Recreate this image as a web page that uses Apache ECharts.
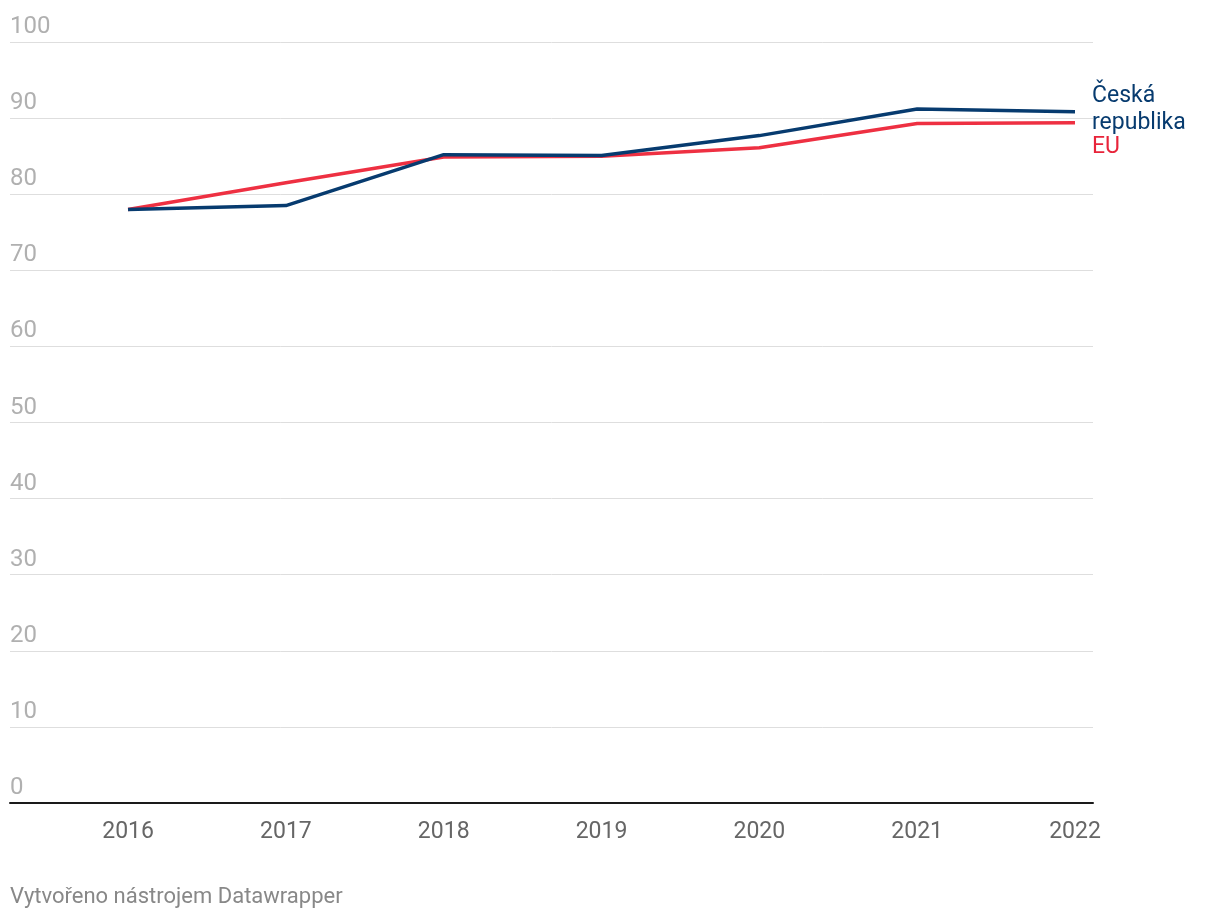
<!DOCTYPE html>
<html>
<head>
<meta charset="utf-8">
<script src="https://cdn.jsdelivr.net/npm/echarts@6/dist/echarts.min.js"></script>
<style>
html,body{margin:0;padding:0;background:#fff;}
#chart{width:1220px;height:920px;}
</style>
</head>
<body>
<div id="chart"></div>
<script>
const years = [2016, 2017, 2018, 2019, 2020, 2021, 2022];
const czech = [78.0, 78.5, 85.2, 85.1, 87.7, 91.2, 90.85];
const eu = [78.0, 81.5, 84.9, 85.0, 86.1, 89.3, 89.4];
const yTicks = [0, 10, 20, 30, 40, 50, 60, 70, 80, 90, 100];
const czechName = 'Česká\nrepublika';
const euName = 'EU';
const footer = 'Vytvořeno nástrojem Datawrapper';

const FONT = 'Roboto, "Noto Sans", sans-serif';
const chart = echarts.init(document.getElementById('chart'), null, {renderer: 'canvas'});

function pairs(vals) { return years.map((y, i) => [y, vals[i]]); }

chart.setOption({
  animation: false,
  backgroundColor: '#ffffff',
  textStyle: {fontFamily: FONT},
  grid: {left: 10, right: 127, top: 42, bottom: 117, containLabel: false},
  xAxis: {
    type: 'value',
    min: 2015.252,
    max: 2022.114,
    splitLine: {show: false},
    axisTick: {show: false},
    axisLine: {show: true, onZero: false, lineStyle: {color: '#1a1a1a', width: 2}},
    axisLabel: {
      customValues: years,
      formatter: v => String(Math.round(v)),
      color: '#666666',
      fontSize: 23,
      fontFamily: FONT,
      margin: 18,
      showMinLabel: true,
      showMaxLabel: true
    }
  },
  yAxis: {
    type: 'value',
    min: 0,
    max: 100,
    interval: 10,
    axisLine: {show: false},
    axisTick: {show: false},
    splitLine: {show: true, lineStyle: {color: '#dedede', width: 1}},
    axisLabel: {
      inside: true,
      margin: 0,
      align: 'left',
      verticalAlign: 'bottom',
      padding: [0, 0, 3, 0],
      color: '#b0b0b0',
      fontSize: 24,
      fontFamily: FONT,
      formatter: v => yTicks.includes(v) ? String(v) : ''
    }
  },
  series: [
    {
      name: euName,
      type: 'line',
      data: pairs(eu),
      symbol: 'none',
      lineStyle: {color: '#ee3042', width: 3.5},
      itemStyle: {color: '#ee3042'},
      z: 2,
      endLabel: {
        show: true,
        formatter: euName,
        color: '#e8243a',
        fontSize: 23,
        fontFamily: FONT,
        distance: 0,
        offset: [17, 25],
        align: 'left',
        verticalAlign: 'middle'
      }
    },
    {
      name: czechName,
      type: 'line',
      data: pairs(czech),
      symbol: 'none',
      lineStyle: {color: '#073b6f', width: 3.5},
      itemStyle: {color: '#073b6f'},
      z: 3,
      endLabel: {
        show: true,
        formatter: czechName,
        color: '#073b6f',
        fontSize: 23,
        lineHeight: 27,
        fontFamily: FONT,
        distance: 0,
        offset: [17, -2],
        align: 'left',
        verticalAlign: 'middle'
      }
    }
  ],
  graphic: [
    {
      type: 'text',
      left: 10,
      top: 886,
      style: {text: footer, fill: '#888888', fontSize: 22, fontFamily: FONT}
    }
  ]
});
</script>
</body>
</html>
